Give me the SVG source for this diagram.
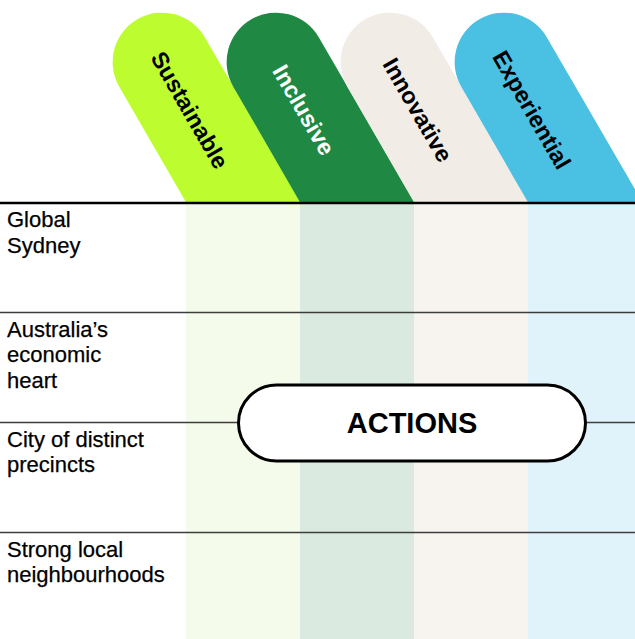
<svg xmlns="http://www.w3.org/2000/svg" width="635" height="639" viewBox="0 0 635 639">
<style>
.row{font-family:"Liberation Sans",Arial,sans-serif;font-size:22px;fill:#000;stroke:#000;stroke-width:0.25}
.tab{font-family:"Liberation Sans",Arial,sans-serif;font-size:23.3px;font-weight:bold;text-anchor:middle}
.rule{stroke:#3d3d3d;stroke-width:1.6}
</style>
<rect width="635" height="639" fill="#ffffff"/>
<g id="columns">
<rect x="186" y="203" width="114" height="436" fill="#f4fbea"/>
<rect x="300" y="203" width="114" height="436" fill="#dbeae1"/>
<rect x="414" y="203" width="114" height="436" fill="#f7f4ef"/>
<rect x="528" y="203" width="107" height="436" fill="#e1f3fa"/>
</g>
<g id="tab-sustainable">
<path d="M185.85,202 L119.25,86.68 A49.36,49.36 0 0 1 204.75,37.32 L300.35,202 Z" fill="#bdfd30"/>
<text class="tab" fill="#000" transform="translate(189.7,110) rotate(60)" x="0" y="8">Sustainable</text>
</g>
<g id="tab-inclusive">
<path d="M299.85,202 L233.25,86.68 A49.36,49.36 0 0 1 318.75,37.32 L414.35,202 Z" fill="#1f8944"/>
<text class="tab" fill="#fff" transform="translate(303.7,110) rotate(60)" x="0" y="8">Inclusive</text>
</g>
<g id="tab-innovative">
<path d="M413.85,202 L347.25,86.68 A49.36,49.36 0 0 1 432.75,37.32 L528.35,202 Z" fill="#f1ece6"/>
<text class="tab" fill="#000" transform="translate(417.7,110) rotate(60)" x="0" y="8">Innovative</text>
</g>
<g id="tab-experiential">
<path d="M527.85,202 L461.25,86.68 A49.36,49.36 0 0 1 546.75,37.32 L642.35,202 Z" fill="#4ac0e3"/>
<text class="tab" fill="#000" transform="translate(531.7,110) rotate(60)" x="0" y="8">Experiential</text>
</g>
<g id="connectors">
<line x1="0" y1="203" x2="635" y2="203" stroke="#000" stroke-width="2.4"/>
<line class="rule" x1="0" y1="312.5" x2="635" y2="312.5"/>
<line class="rule" x1="0" y1="422.5" x2="635" y2="422.5"/>
<line class="rule" x1="0" y1="532.5" x2="635" y2="532.5"/>
</g>
<g id="row-global">
<text class="row" x="7" y="227">Global</text>
<text class="row" x="7" y="252.5">Sydney</text>
</g>
<g id="row-economic">
<text class="row" x="7" y="337">Australia’s</text>
<text class="row" x="7" y="362">economic</text>
<text class="row" x="7" y="387.5">heart</text>
</g>
<g id="row-precincts">
<text class="row" x="7" y="446.5">City of distinct</text>
<text class="row" x="7" y="471.5">precincts</text>
</g>
<g id="row-neighbourhoods">
<text class="row" x="7" y="556.5">Strong local</text>
<text class="row" x="7" y="581.5">neighbourhoods</text>
</g>
<g id="actions">
<rect x="238.5" y="385" width="347" height="76" rx="38" ry="38" fill="#fff" stroke="#000" stroke-width="3"/>
<text x="412" y="432.5" font-family="'Liberation Sans',Arial,sans-serif" font-size="29" font-weight="bold" text-anchor="middle" fill="#000">ACTIONS</text>
</g>
</svg>
